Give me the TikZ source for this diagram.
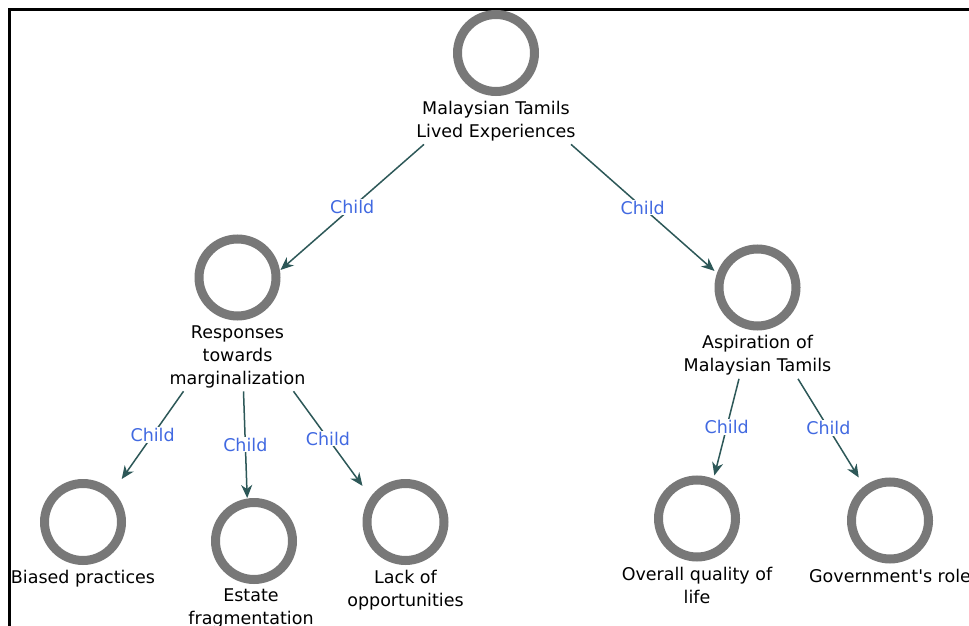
\documentclass[tikz,border=0pt]{standalone}
\usepackage{fontspec}
\setmainfont{DejaVu Sans}
\usetikzlibrary{arrows.meta,positioning,calc}
\definecolor{ringgray}{RGB}{120,120,120}
\definecolor{edgeteal}{RGB}{45,88,88}
\definecolor{childblue}{RGB}{65,105,225}
\begin{document}
\begin{tikzpicture}[x=1pt,y=-1pt,
  concept/.style={rectangle, minimum size=86pt, inner sep=0pt, outer sep=0pt,
    path picture={\draw[ringgray, line width=9pt] (path picture bounding box.center) circle[radius=38.5pt];}},
  txt/.style={align=center, inner sep=2pt, font=\fontsize{17.5}{23}\selectfont, text=black},
  edge/.style={draw=edgeteal, line width=1.5pt, -{Stealth[length=13pt,width=11pt,inset=4pt]}},
  lbl/.style={fill=white, inner sep=1pt, text=childblue, font=\fontsize{17.5}{21}\selectfont}]
\useasboundingbox (0,0) rectangle (969,626);
\fill[white] (0,0) rectangle (969,626);
\draw[line width=3pt] (9.5,626) -- (9.5,9.5) -- (969,9.5);

% concepts
\node[concept] (root) at (496,53) {};
\node[txt, below=3pt of root] (rootT) {Malaysian Tamils\\Lived Experiences};
\node[concept] (resp) at (237.5,277.5) {};
\node[txt, below=3pt of resp] (respT) {Responses\\towards\\marginalization};
\node[concept] (asp) at (757.5,287.5) {};
\node[txt, below=3pt of asp] (aspT) {Aspiration of\\Malaysian Tamils};
\node[concept] (bias) at (83,522) {};
\node[txt, below=3pt of bias] (biasT) {Biased practices};
\node[concept] (est) at (254,541) {};
\node[txt, below=3pt of est, xshift=-3pt] (estT) {Estate\\fragmentation};
\node[concept] (lack) at (405.5,522) {};
\node[txt, below=3pt of lack] (lackT) {Lack of\\opportunities};
\node[concept] (qual) at (697,518.5) {};
\node[txt, below=3pt of qual] (qualT) {Overall quality of\\life};
\node[concept] (gov) at (890,520.5) {};
\node[txt, below=3pt of gov] (govT) {Government\textquotesingle s role};

% connectors
\draw[edge] ($(rootT.south)+(-72,1)$) -- node[lbl]{Child} (resp.10);
\draw[edge] ($(rootT.south)+(75,1)$) -- node[lbl]{Child} (asp.159);
\draw[edge] ($(respT.south)+(-54,1)$) -- node[lbl]{Child} (bias.48.4);
\draw[edge] ($(respT.south)+(6,1)$) -- node[lbl]{Child} (est.99);
\draw[edge] ($(respT.south)+(56,1)$) -- node[lbl]{Child} (lack.140);
\draw[edge] ($(aspT.south)+(-18.5,1)$) -- node[lbl]{Child} (qual.68.7);
\draw[edge] ($(aspT.south)+(40.5,1)$) -- node[lbl]{Child} (gov.126);
\end{tikzpicture}
\end{document}
